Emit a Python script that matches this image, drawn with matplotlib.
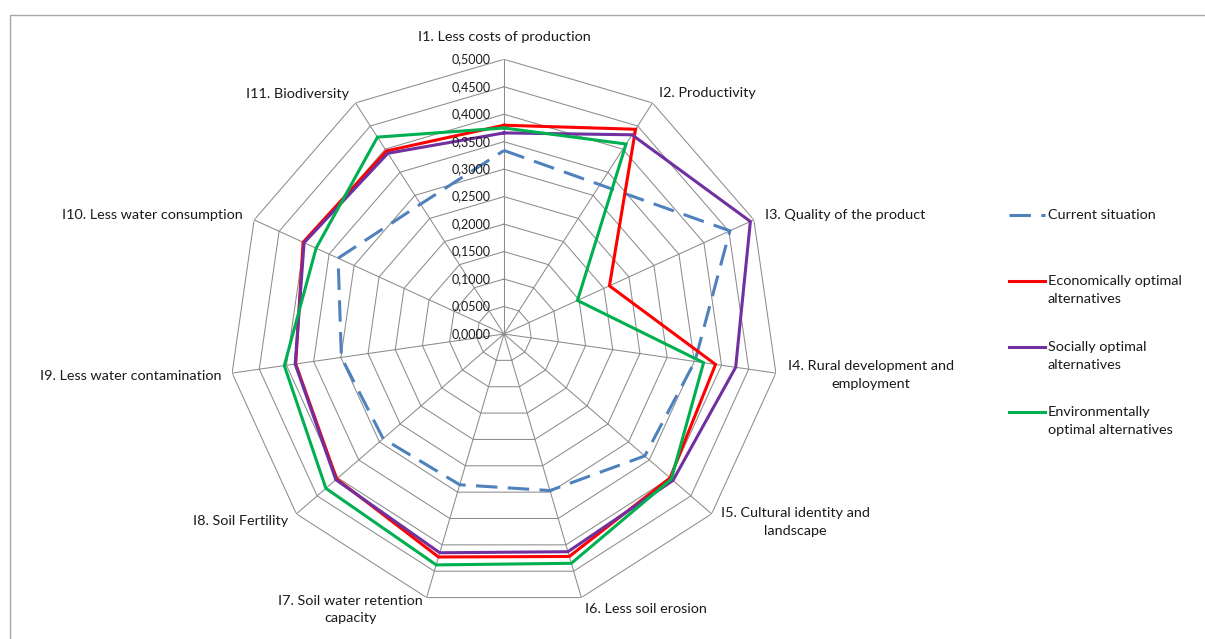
import numpy as np
import matplotlib
matplotlib.use('Agg')
import matplotlib.pyplot as plt
import matplotlib.transforms as mtransforms
from matplotlib.lines import Line2D
from matplotlib.patches import Rectangle

plt.rcParams['font.family'] = ['Lato', 'DejaVu Sans']

# ---------------- data ----------------
categories = [
    "I1. Less costs of production",
    "I2. Productivity",
    "I3. Quality of the product",
    "I4. Rural development and\nemployment",
    "I5. Cultural identity and\nlandscape",
    "I6. Less soil erosion",
    "I7. Soil water retention\ncapacity",
    "I8. Soil Fertility",
    "I9. Less water contamination",
    "I10. Less water consumption",
    "I11. Biodiversity",
]

current_situation = [0.334, 0.323, 0.452, 0.351, 0.339, 0.297, 0.286, 0.291, 0.299, 0.332, 0.281]
economically_optimal = [0.380, 0.443, 0.211, 0.389, 0.400, 0.422, 0.423, 0.403, 0.383, 0.402, 0.396]
socially_optimal = [0.366, 0.431, 0.493, 0.426, 0.407, 0.413, 0.415, 0.405, 0.384, 0.400, 0.391]
environmentally_optimal = [0.375, 0.411, 0.147, 0.367, 0.403, 0.435, 0.438, 0.429, 0.404, 0.376, 0.426]

series_names = ["Current situation", "Economically optimal\nalternatives",
                "Socially optimal\nalternatives", "Environmentally\noptimal alternatives"]

tick_values = [0.0, 0.05, 0.10, 0.15, 0.20, 0.25, 0.30, 0.35, 0.40, 0.45, 0.50]
tick_labels = ["0,0000", "0,0500", "0,1000", "0,1500", "0,2000", "0,2500",
               "0,3000", "0,3500", "0,4000", "0,4500", "0,5000"]

# ---------------- styles ----------------
colors = ['#4F81BD', '#FF0000', '#7030A0', '#00B050']
dash_styles = [(0, (7, 3.4)), '-', '-', '-']
LW = 2.2
GRID = '#8C8C8C'
FS = 10.4
FS_TICK = 9.0
LSP = 1.58
TXT = '#1A1A1A'

W, H, DPI = 1205, 639, 100
fig = plt.figure(figsize=(W / DPI, H / DPI), dpi=DPI)

# outer frame (chart area border)
fig.add_artist(Rectangle((10 / W, -0.2), 1.2, 1.2 - 15 / H, transform=fig.transFigure,
                         fill=False, edgecolor='#A6A6A6', linewidth=1.0))

cx, cy, R = 504, 334, 274.7
ax = fig.add_axes([(cx - R) / W, (H - cy - R) / H, 2 * R / W, 2 * R / H], projection='polar')
ax.set_theta_zero_location('N')
ax.set_theta_direction(-1)
ax.set_ylim(0, 0.5)
ax.grid(False)
ax.set_xticks([])
ax.set_yticks([])
ax.spines['polar'].set_visible(False)
ax.patch.set_alpha(0)

n = len(categories)
angles = np.arange(n) * 2 * np.pi / n
closed_angles = np.concatenate([angles, angles[:1]])

# polygon grid rings
for v in tick_values[1:]:
    ax.plot(closed_angles, [v] * (n + 1), color=GRID, lw=0.75, zorder=1)
# spokes
for a in angles:
    ax.plot([a, a], [0, tick_values[-1]], color=GRID, lw=0.75, zorder=1)

# data series
all_series = [current_situation, economically_optimal, socially_optimal, environmentally_optimal]
for vals, col, ls in zip(all_series, colors, dash_styles):
    vv = list(vals) + [vals[0]]
    ax.plot(closed_angles, vv, color=col, lw=LW, linestyle=ls, zorder=3,
            solid_joinstyle='miter', dash_joinstyle='miter', dash_capstyle='butt')

# radial tick labels along first spoke
tick_tr = mtransforms.offset_copy(ax.transData, fig=fig, x=-13, y=0, units='dots')
for v, lab in zip(tick_values, tick_labels):
    ax.text(0, v, lab, transform=tick_tr, ha='right', va='center', fontsize=FS_TICK,
            color=TXT, zorder=4)

# category labels (offsets in pixels from outer vertex)
label_offsets = [
    (0, 22, 'center'),
    (6.5, 10, 'left'),
    (11, 5, 'left'),
    (12, -2, 'left'),
    (9, -8, 'left'),
    (4, -11, 'left'),
    (-4, -12, 'right'),
    (-8, -7, 'right'),
    (-11, -3, 'right'),
    (-11, 5, 'right'),
    (-6.5, 9, 'right'),
]
for a, lab, (dx, dy, ha) in zip(angles, categories, label_offsets):
    tr = mtransforms.offset_copy(ax.transData, fig=fig, x=dx, y=dy, units='dots')
    ax.text(a, tick_values[-1], lab, transform=tr, ha=ha, va='center', fontsize=FS,
            multialignment='center', linespacing=LSP, color=TXT)

# legend (manual, to align handle with first text line)
leg_first_line_y = [215, 281, 347, 412]
line_h = 18.5
for name, col, ls, y in zip(series_names, colors, dash_styles, leg_first_line_y):
    yf = 1 - y / H
    fig.add_artist(Line2D([1009 / W, 1045 / W], [yf, yf], transform=fig.transFigure,
                          color=col, lw=LW, linestyle=ls, dash_capstyle='butt'))
    nlines = name.count('\n') + 1
    yc = 1 - (y + (nlines - 1) * line_h / 2) / H
    fig.text(1048 / W, yc, name, ha='left', va='center', fontsize=FS,
             linespacing=LSP, color=TXT)

fig.savefig('out.png', dpi=DPI)
